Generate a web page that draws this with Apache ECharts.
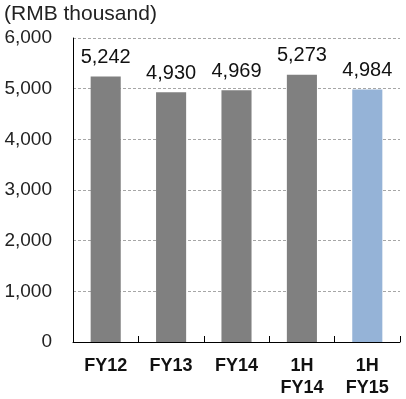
<!DOCTYPE html>
<html>
<head>
<meta charset="utf-8">
<script src="https://cdn.jsdelivr.net/npm/echarts@6/dist/echarts.min.js"></script>
<style>
  html, body { margin: 0; padding: 0; background: #fff; }
  #chart { width: 406px; height: 399px; }
</style>
</head>
<body>
<div id="chart"></div>
<script>
// Revenue per period, RMB thousand
const categories = ['FY12', 'FY13', 'FY14', '1H\nFY14', '1H\nFY15'];
const values = [5242, 4930, 4969, 5273, 4984];
const barColors = ['#808080', '#808080', '#808080', '#808080', '#95B3D7'];
const yTicks = [0, 1000, 2000, 3000, 4000, 5000, 6000];

const chart = echarts.init(document.getElementById('chart'));
chart.setOption({
  animation: false,
  title: {
    text: '(RMB thousand)',
    left: 4, top: 4, padding: 0,
    textStyle: { fontFamily: 'Liberation Sans', fontSize: 21, fontWeight: 'normal', color: '#222' }
  },
  grid: { left: 73, right: 6, top: 38, bottom: 54, containLabel: false },
  xAxis: {
    type: 'category',
    data: categories,
    axisLine: { lineStyle: { color: '#000', width: 1 } },
    axisTick: { show: true, alignWithLabel: false, length: 6, inside: true, lineStyle: { color: '#000' } },
    axisLabel: {
      fontFamily: 'Liberation Sans', fontSize: 18, fontWeight: 'bold', color: '#111',
      margin: 13, lineHeight: 22
    }
  },
  yAxis: {
    type: 'value',
    min: yTicks[0], max: yTicks[yTicks.length - 1], interval: 1000,
    axisLine: { show: true, lineStyle: { color: '#000', width: 1 } },
    axisTick: { show: false },
    splitLine: { lineStyle: { color: '#a6a6a6', type: [3, 2], width: 1 } },
    axisLabel: {
      fontFamily: 'Liberation Sans', fontSize: 19, color: '#222', margin: 21,
      formatter: v => v.toLocaleString('en-US')
    }
  },
  series: [{
    type: 'bar',
    barWidth: '46%',
    data: values.map((v, i) => ({ value: v, itemStyle: { color: barColors[i] } })),
    label: {
      show: true, position: 'top', distance: 9,
      fontFamily: 'Liberation Sans', fontSize: 20, color: '#111',
      formatter: p => p.value.toLocaleString('en-US')
    }
  }]
});
</script>
</body>
</html>
